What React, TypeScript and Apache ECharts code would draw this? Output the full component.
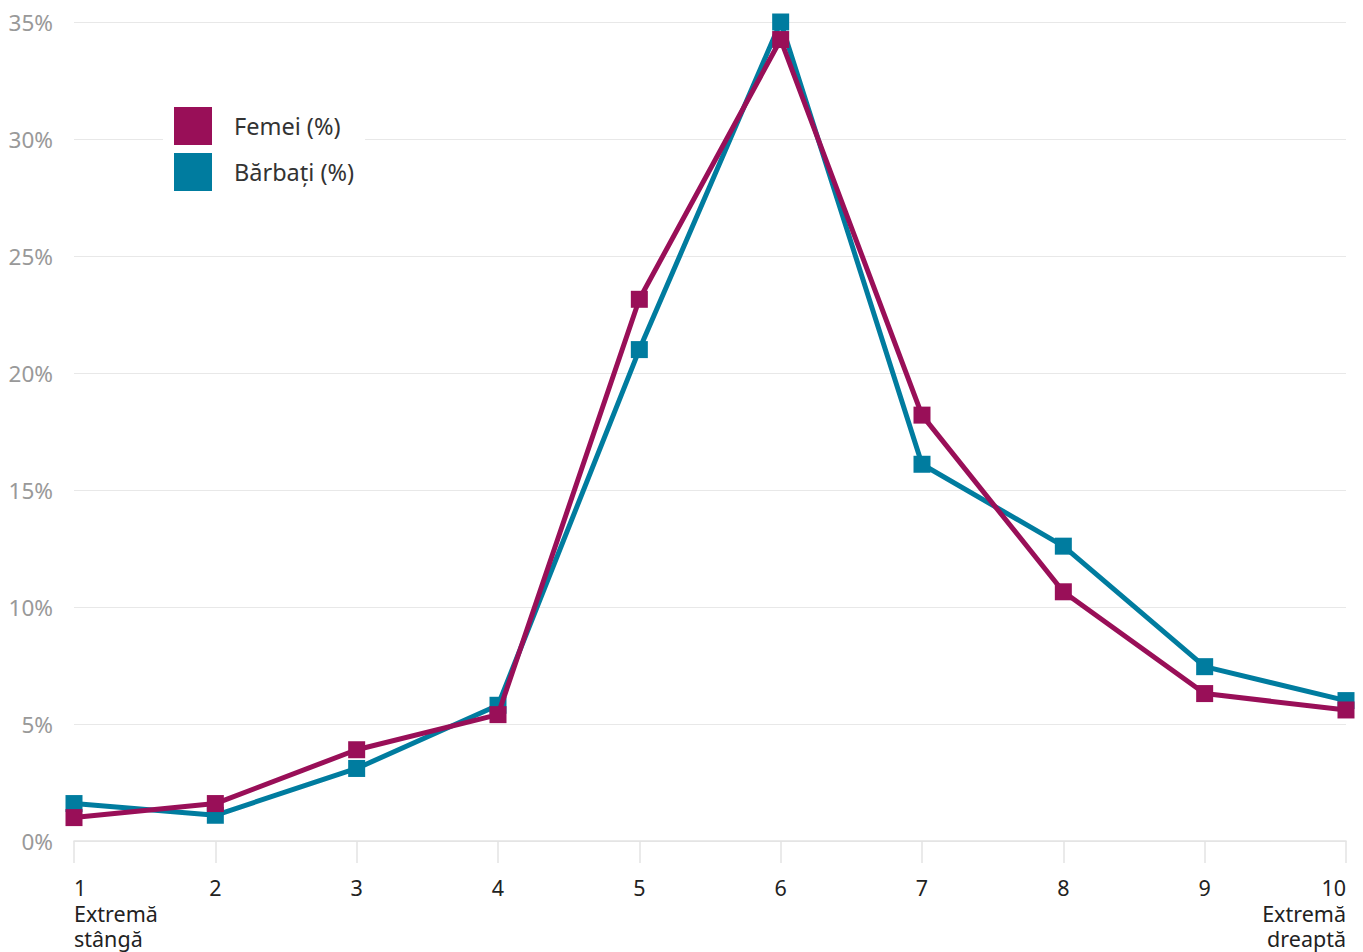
import React, { useEffect, useRef } from "react";
import * as echarts from "echarts";

const categories = ["1", "2", "3", "4", "5", "6", "7", "8", "9", "10"];
const categoryLabels = [
  "1\nExtremă\nstângă",
  "2",
  "3",
  "4",
  "5",
  "6",
  "7",
  "8",
  "9",
  "10\nExtremă\ndreaptă",
];
const femei = [1.0, 1.6, 3.9, 5.4, 23.15, 34.25, 18.2, 10.65, 6.3, 5.6];
const barbati = [1.6, 1.1, 3.1, 5.8, 21.0, 35.0, 16.1, 12.6, 7.45, 6.0];
const seriesNames = ["Femei (%)", "Bărbați (%)"];
const colors = ["#990f58", "#007c9f"];

export default function App() {
  const ref = useRef<HTMLDivElement>(null);
  useEffect(() => {
    if (!ref.current) return;
    const chart = echarts.init(ref.current, null, { renderer: "svg" });
    const font = "'Noto Sans', sans-serif";
    chart.setOption({
      animation: false,
      textStyle: { fontFamily: font },
      grid: { left: 74, right: 17, top: 22, bottom: 111, containLabel: false },
      legend: {
        orient: "vertical",
        left: 163,
        top: 96,
        padding: 11,
        backgroundColor: "#ffffff",
        itemWidth: 38,
        itemHeight: 38,
        itemGap: 8,
        icon: "rect",
        data: [
          { name: seriesNames[0], itemStyle: { color: colors[0] } },
          { name: seriesNames[1], itemStyle: { color: colors[1] } },
        ],
        textStyle: {
          fontFamily: font,
          fontSize: 23.5,
          color: "#333333",
          padding: [0, 0, 0, 17],
        },
      },
      xAxis: {
        type: "category",
        boundaryGap: false,
        data: categories,
        axisLine: { lineStyle: { color: "#e3e3e3", width: 1.5 } },
        axisTick: { show: true, length: 22, lineStyle: { color: "#e3e3e3", width: 1.5 } },
        axisLabel: {
          margin: 34,
          fontSize: 21.5,
          lineHeight: 25.5,
          color: "#222222",
          fontFamily: font,
          interval: 0,
          verticalAlign: "top",
          alignMinLabel: "left",
          alignMaxLabel: "right",
          formatter: (v: string, i: number) => categoryLabels[i],
        },
      },
      yAxis: {
        type: "value",
        min: 0,
        max: 35,
        interval: 5,
        axisLine: { show: false },
        axisTick: { show: false },
        splitLine: { lineStyle: { color: "#e8e8e8", width: 1.2 } },
        axisLabel: {
          margin: 21,
          fontSize: 22.5,
          color: "#999999",
          fontFamily: font,
          formatter: "{value}%",
        },
      },
      series: [
        {
          name: seriesNames[1],
          type: "line",
          data: barbati,
          symbol: "rect",
          symbolSize: 17,
          lineStyle: { width: 5, color: colors[1] },
          itemStyle: { color: colors[1] },
          z: 2,
        },
        {
          name: seriesNames[0],
          type: "line",
          data: femei,
          symbol: "rect",
          symbolSize: 17,
          lineStyle: { width: 5, color: colors[0] },
          itemStyle: { color: colors[0] },
          z: 3,
        },
      ],
    });
    return () => chart.dispose();
  }, []);
  return <div ref={ref} style={{ width: 1363, height: 952, position: "absolute", left: 0, top: 0 }} />;
}
